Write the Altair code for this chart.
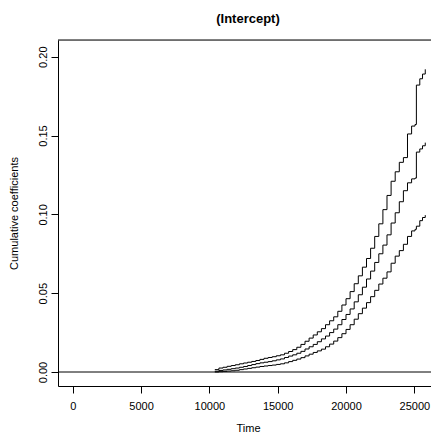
import altair as alt
import pandas as pd

times = [10400, 10700, 11000, 11300, 11600, 11900, 12200, 12500, 12800, 13100,
         13400, 13700, 14000, 14300, 14600, 14900, 15200, 15500, 15800, 16100,
         16400, 16700, 17000, 17300, 17600, 17900, 18200, 18500, 18800, 19100,
         19400, 19700, 20000, 20300, 20600, 20900, 21200, 21500, 21800, 22100,
         22400, 22700, 23000, 23300, 23600, 23900, 24200, 24500, 24800, 25050,
         25150, 25400, 25600, 25800]

estimate = [0.0005, 0.0010, 0.0013, 0.0017, 0.0021, 0.0025, 0.0030, 0.0035, 0.0041, 0.0047,
            0.0053, 0.0058, 0.0062, 0.0066, 0.0071, 0.0077, 0.0083, 0.0092, 0.0101, 0.0109,
            0.0119, 0.0131, 0.0146, 0.0160, 0.0175, 0.0192, 0.0210, 0.0228, 0.0250, 0.0272,
            0.0300, 0.0333, 0.0365, 0.0400, 0.0445, 0.0490, 0.0538, 0.0590, 0.0640, 0.0695,
            0.0750, 0.0805, 0.0870, 0.0945, 0.1010, 0.1080, 0.1150, 0.1200, 0.1225, 0.1230,
            0.1395, 0.1415, 0.1435, 0.1455]

upper = [0.0015, 0.0025, 0.0030, 0.0036, 0.0041, 0.0046, 0.0052, 0.0057, 0.0062, 0.0067,
         0.0073, 0.0080, 0.0087, 0.0092, 0.0097, 0.0103, 0.0109, 0.0119, 0.0130, 0.0142,
         0.0157, 0.0175, 0.0195, 0.0215, 0.0235, 0.0255, 0.0275, 0.0300, 0.0325, 0.0350,
         0.0385, 0.0425, 0.0465, 0.0510, 0.0560, 0.0610, 0.0665, 0.0720, 0.0785, 0.0860,
         0.0940, 0.1030, 0.1120, 0.1210, 0.1270, 0.1330, 0.1360, 0.1510, 0.1560, 0.1570,
         0.1820, 0.1860, 0.1890, 0.1920]

lower = [0.0000, 0.0002, 0.0004, 0.0006, 0.0008, 0.0011, 0.0015, 0.0019, 0.0023, 0.0027,
         0.0031, 0.0035, 0.0038, 0.0041, 0.0044, 0.0048, 0.0052, 0.0058, 0.0066, 0.0074,
         0.0082, 0.0091, 0.0102, 0.0113, 0.0124, 0.0134, 0.0145, 0.0160, 0.0177, 0.0196,
         0.0218, 0.0243, 0.0270, 0.0300, 0.0335, 0.0370, 0.0405, 0.0440, 0.0478, 0.0518,
         0.0558, 0.0595, 0.0635, 0.0690, 0.0735, 0.0770, 0.0810, 0.0860, 0.0895, 0.0905,
         0.0925, 0.0960, 0.0980, 0.0995]

x_ticks = [0, 5000, 10000, 15000, 20000, 25000]
y_ticks = [0.00, 0.05, 0.10, 0.15, 0.20]

rows = []
for name, vals in [("estimate", estimate), ("upper", upper), ("lower", lower)]:
    for t, v in zip(times, vals):
        rows.append({"time": t, "value": v, "series": name})
df = pd.DataFrame(rows)

W, H = 373, 346
FONT = "Liberation Sans"

xscale = alt.Scale(domain=[-1076, 26220], nice=False, zero=False)
yscale = alt.Scale(domain=[-0.00888, 0.2106], nice=False, zero=False)

lines = alt.Chart(df).mark_line(
    interpolate="step-after", color="black", strokeWidth=1, clip=True
).encode(
    x=alt.X("time:Q", scale=xscale,
            axis=alt.Axis(values=x_ticks, format="d", title="Time", grid=False,
                          tickSize=7, labelPadding=7, labelFontSize=11, labelFont=FONT,
                          labelColor="black", tickColor="black", domainColor="black",
                          titleFont=FONT, titleFontSize=11, titleFontWeight="normal",
                          titleColor="black", titleX=190, titleY=42,
                          titleBaseline="middle", titleAlign="center")),
    y=alt.Y("value:Q", scale=yscale,
            axis=alt.Axis(values=y_ticks, format=".2f", title="Cumulative coefficients",
                          grid=False, tickSize=7, labelPadding=3, labelAngle=-90,
                          labelFontSize=11, labelFont=FONT, labelColor="black",
                          labelAlign="center", labelBaseline="bottom",
                          tickColor="black", domainColor="black",
                          titleFont=FONT, titleFontSize=11, titleFontWeight="normal",
                          titleColor="black", titleX=-44, titleY=173, titleAngle=-90,
                          titleBaseline="middle", titleAlign="center")),
    detail="series:N",
)

zero = alt.Chart(pd.DataFrame({"y": [0.0]})).mark_rule(
    color="black", strokeWidth=1
).encode(y=alt.Y("y:Q", scale=yscale))

top = alt.Chart(pd.DataFrame({"y": [0.0]})).mark_rule(
    color="black", strokeWidth=1
).encode(x=alt.value(0), x2=alt.value(W), y=alt.value(0))

chart = alt.layer(lines, zero, top).properties(
    width=W, height=H,
    title=alt.TitleParams("(Intercept)", font=FONT, fontSize=13, fontWeight="bold",
                          color="black", anchor="middle", dx=3.5, offset=4,
                          baseline="alphabetic"),
    autosize=alt.AutoSizeParams(type="none"),
    padding={"left": 58, "top": 40, "right": 0, "bottom": 53},
).configure_view(stroke=None).configure(background="white")

chart.save("out.html", embed_options={"renderer": "svg", "actions": False})
